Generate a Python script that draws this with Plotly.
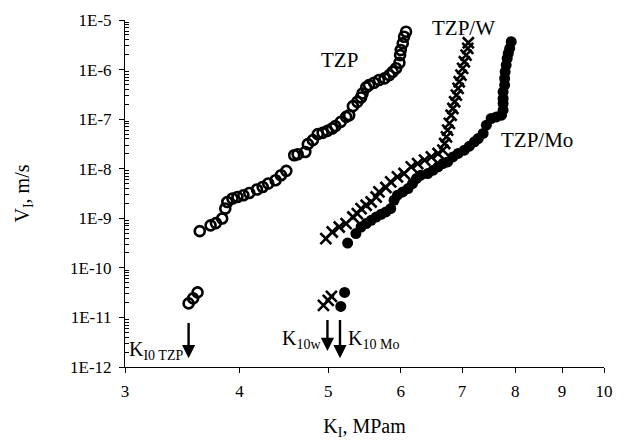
import numpy as np
import plotly.graph_objects as go

# ---- data (K_I in MPa*m^0.5, V_I in m/s) ----
tzp_k = [3.52, 3.56, 3.60,
         3.62, 3.72, 3.77, 3.83, 3.86, 3.88, 3.93, 3.98, 4.04, 4.10, 4.18, 4.24, 4.30, 4.38, 4.44,
         4.50, 4.59, 4.63, 4.72, 4.75, 4.81, 4.87, 4.93, 4.99, 5.05, 5.09, 5.16, 5.23, 5.27, 5.32,
         5.38, 5.43, 5.45, 5.50, 5.54, 5.61, 5.68, 5.76, 5.83, 5.88, 5.93, 5.98, 5.99, 6.00, 6.03,
         6.05, 6.08]
tzp_v = [1.92e-11, 2.42e-11, 3.2e-11,
         5.5e-10, 7.2e-10, 8.0e-10, 9.9e-10, 1.57e-9, 2.13e-9, 2.5e-9, 2.69e-9, 2.92e-9, 3.24e-9,
         3.8e-9, 4.29e-9, 5.02e-9, 5.86e-9, 7.4e-9, 9.04e-9, 1.87e-8, 1.96e-8, 2.18e-8, 3.13e-8,
         3.77e-8, 4.98e-8, 5.29e-8, 5.81e-8, 6.49e-8, 7.22e-8, 8.82e-8, 1.11e-7, 1.2e-7, 1.83e-7,
         2.24e-7, 2.74e-7, 3.3e-7, 4.37e-7, 4.86e-7, 5.41e-7, 6.14e-7, 6.64e-7, 7.74e-7, 9.03e-7,
         1.06e-6, 1.37e-6, 1.96e-6, 2.48e-6, 3.38e-6, 4.6e-6, 5.81e-6]

w_k = [4.94, 5.00, 5.04,
       4.97, 5.05, 5.14, 5.23, 5.32, 5.38, 5.43, 5.50, 5.57, 5.64, 5.68, 5.78, 5.85, 5.95, 6.05,
       6.16, 6.26, 6.37, 6.48, 6.59, 6.67, 6.70, 6.73, 6.75, 6.78, 6.81, 6.84, 6.87, 6.90, 6.93,
       6.95, 6.98, 7.01, 7.04, 7.07, 7.10, 7.11]
w_v = [1.75e-11, 2.2e-11, 2.65e-11,
       3.89e-10, 5.28e-10, 6.67e-10, 7.81e-10, 1.06e-9, 1.24e-9, 1.57e-9, 1.83e-9, 2.13e-9,
       2.69e-9, 3.4e-9, 4.17e-9, 5.41e-9, 6.83e-9, 8.0e-9, 1.09e-8, 1.27e-8, 1.49e-8, 1.73e-8,
       2.03e-8, 2.37e-8, 3.23e-8, 4.39e-8, 6.0e-8, 8.19e-8, 1.2e-7, 1.64e-7, 2.24e-7, 3.05e-7,
       4.17e-7, 5.68e-7, 7.74e-7, 1.06e-6, 1.44e-6, 1.96e-6, 2.68e-6, 3.48e-6]

mo_k = [5.16, 5.21,
        5.25, 5.36, 5.43, 5.50, 5.57, 5.64, 5.71, 5.78, 5.85, 5.90, 5.95, 6.03, 6.11, 6.18, 6.24,
        6.31, 6.42, 6.51, 6.59, 6.67, 6.75, 6.84, 6.93, 7.04, 7.13, 7.22, 7.29, 7.38, 7.44, 7.53,
        7.63, 7.73, 7.76, 7.76, 7.76, 7.76, 7.79, 7.79, 7.80, 7.82, 7.84, 7.86, 7.89, 7.92]
mo_v = [1.67e-11, 3.2e-11,
        3.17e-10, 4.91e-10, 6.67e-10, 7.81e-10, 9.12e-10, 1.06e-9, 1.2e-9, 1.34e-9, 1.57e-9,
        2.31e-9, 2.92e-9, 3.4e-9, 3.98e-9, 5.02e-9, 6.34e-9, 7.4e-9, 8.0e-9, 9.33e-9, 1.09e-8,
        1.27e-8, 1.37e-8, 1.73e-8, 2.03e-8, 2.37e-8, 2.85e-8, 3.48e-8, 4.07e-8, 5.14e-8, 7.57e-8,
        1.03e-7, 1.11e-7, 1.2e-7, 1.52e-7, 2.08e-7, 2.62e-7, 3.56e-7, 4.86e-7, 6.64e-7, 9.03e-7,
        1.23e-6, 1.68e-6, 2.12e-6, 2.68e-6, 3.65e-6]

# threshold K_I0 values (arrows)
k0_names = ["TZP", "W", "Mo"]
k0_values = [3.52, 4.99, 5.15]
k0_arrow_top = [8.3e-12, 9.5e-12, 9.5e-12]
k0_arrow_bottom = [1.5e-12, 2.1e-12, 1.5e-12]

x_ticks = [3, 4, 5, 6, 7, 8, 9, 10]
y_tickvals = [1e-12, 1e-11, 1e-10, 1e-9, 1e-8, 1e-7, 1e-6, 1e-5]
y_ticktext = ["1E-12", "1E-11", "1E-10", "1E-9", "1E-8", "1E-7", "1E-6", "1E-5"]

FONT = "Liberation Serif"
L = np.log10

fig = go.Figure()
fig.add_trace(go.Scatter(x=tzp_k, y=tzp_v, mode="markers", name="TZP",
                         marker=dict(symbol="circle-open", size=10, color="black",
                                     line=dict(width=2.6, color="black"))))
fig.add_trace(go.Scatter(x=w_k, y=w_v, mode="markers", name="TZP/W",
                         marker=dict(symbol="x-thin", size=11,
                                     line=dict(width=2.6, color="black"))))
fig.add_trace(go.Scatter(x=mo_k, y=mo_v, mode="markers", name="TZP/Mo",
                         marker=dict(symbol="circle", size=11, color="black")))

ann = []
# series labels
ann.append(dict(x=L(5.15), y=L(1.56e-6), text="TZP", showarrow=False,
                font=dict(family=FONT, size=21, color="black")))
ann.append(dict(x=L(7.02), y=L(6.9e-6), text="TZP/W", showarrow=False,
                font=dict(family=FONT, size=21, color="black")))
ann.append(dict(x=L(8.44), y=L(3.77e-8), text="TZP/Mo", showarrow=False,
                font=dict(family=FONT, size=21, color="black")))
# arrows
for k, top, bot in zip(k0_values, k0_arrow_top, k0_arrow_bottom):
    ann.append(dict(x=L(k), y=L(bot), ax=L(k), ay=L(top), axref="x", ayref="y",
                    xref="x", yref="y", text="", showarrow=True, arrowhead=2,
                    arrowsize=1.1, arrowwidth=2.4, arrowcolor="black"))
# threshold labels
ann.append(dict(x=L(3.015), y=L(2.2e-12), text="K<sub>I0 TZP</sub>", showarrow=False,
                xanchor="left", font=dict(family=FONT, size=20, color="black")))
ann.append(dict(x=L(4.93), y=L(3.6e-12), text="K<sub>10w</sub>", showarrow=False,
                xanchor="right", font=dict(family=FONT, size=20, color="black")))
ann.append(dict(x=L(5.23), y=L(3.6e-12), text="K<sub>10 Mo</sub>", showarrow=False,
                xanchor="left", font=dict(family=FONT, size=20, color="black")))

minor_vals = [m * 10.0 ** e for e in range(-12, -5) for m in range(2, 10)]

fig.update_layout(
    width=644, height=442,
    margin=dict(l=117, r=48, t=12, b=83),
    paper_bgcolor="white", plot_bgcolor="white",
    showlegend=False,
    font=dict(family=FONT, size=17, color="black"),
    annotations=ann,
    xaxis=dict(type="log", range=[L(3), 1], tickmode="array", tickvals=x_ticks,
               ticktext=[str(t) for t in x_ticks], ticks="outside", ticklen=5,
               tickwidth=1, tickcolor="black", showline=True, linecolor="black",
               linewidth=1, showgrid=False, zeroline=False, ticklabelstandoff=4,
               automargin=False,
               tickfont=dict(family=FONT, size=17),
               title=dict(text="K<sub>I</sub>, MPam", font=dict(family=FONT, size=20),
                          standoff=18)),
    yaxis=dict(type="log", range=[-12, -5], tickmode="array", tickvals=y_tickvals,
               ticktext=y_ticktext, ticks="outside", ticklen=5, tickwidth=1,
               tickcolor="black", showline=True, linecolor="black", linewidth=1,
               showgrid=False, zeroline=False, ticklabelstandoff=4,
               automargin=False,
               tickfont=dict(family=FONT, size=17),
               minor=dict(ticks="inside", ticklen=4, tickwidth=1, tickcolor="black",
                          tickmode="array", tickvals=minor_vals, showgrid=False),
               title=dict(text="V<sub>I</sub>, m/s", font=dict(family=FONT, size=20),
                          standoff=35)),
)

fig.write_html("out.html")
